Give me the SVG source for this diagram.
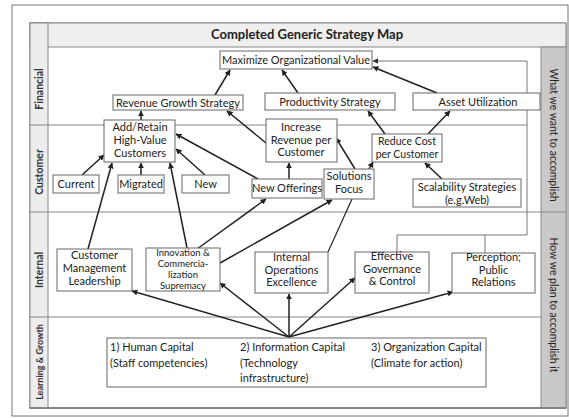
<svg xmlns="http://www.w3.org/2000/svg" width="569" height="418" viewBox="0 0 569 418">
<style>
.frame{fill:none;stroke:#777;stroke-width:1}
.div{stroke:#888;stroke-width:1;fill:none}
.box{fill:#fff;stroke:#666;stroke-width:1}
.t{font-family:Lato,"Open Sans",sans-serif;font-size:11px;fill:#222;text-anchor:middle}
.tl{font-family:Lato,"Open Sans",sans-serif;font-size:11px;fill:#222}
.lab{font-family:Lato,"Open Sans",sans-serif;font-size:10.5px;font-weight:bold;fill:#333;text-anchor:middle}
.side{font-family:Lato,"Open Sans",sans-serif;font-size:10.5px;fill:#222;text-anchor:middle}
.c{stroke:#222;stroke-width:1.5;fill:none;marker-end:url(#ah)}
.cp{stroke:#222;stroke-width:1.2;fill:none}
.br{stroke:#777;stroke-width:1;fill:none}
</style>
<defs>
<marker id="ah" viewBox="0 0 10 10" refX="9" refY="5" markerWidth="6" markerHeight="6" markerUnits="userSpaceOnUse" orient="auto">
<path d="M0,0 L10,5 L0,10 z" fill="#222"/>
</marker>
<marker id="ah2" viewBox="0 0 10 10" refX="9" refY="5" markerWidth="6" markerHeight="6" markerUnits="userSpaceOnUse" orient="auto">
<path d="M0,0 L10,5 L0,10 z" fill="#333"/>
</marker>
</defs>
<rect x="0" y="0" width="569" height="418" fill="#fff"/>
<g id="frame">
<rect x="12" y="5" width="556" height="411" class="frame"/>
<rect x="30" y="23" width="536" height="385" fill="#fff" stroke="#777"/>
<rect x="30" y="23" width="536" height="24" fill="#efefef" stroke="#888"/>
<rect x="30" y="23" width="18" height="385" fill="#ededed" stroke="#888"/>
<rect x="541" y="47" width="25" height="361" fill="#c9c9c9" stroke="#888"/>
<line x1="30" y1="125" x2="527" y2="125" class="div"/>
<line x1="30" y1="212" x2="566" y2="212" class="div"/>
<line x1="30" y1="317" x2="541" y2="317" class="div"/>
<line x1="30" y1="408" x2="566" y2="408" stroke="#777" stroke-width="1.5"/>
<text x="307" y="39" font-family="Lato,'Open Sans',sans-serif" font-size="13" font-weight="bold" fill="#222" text-anchor="middle">Completed Generic Strategy Map</text>
<text class="lab" transform="translate(43,89) rotate(-90)">Financial</text>
<text class="lab" transform="translate(43,172) rotate(-90)">Customer</text>
<text class="lab" transform="translate(43,270) rotate(-90)">Internal</text>
<text class="lab" style="font-size:9px" transform="translate(42.5,362) rotate(-90)">Learning &amp; Growth</text>
<text class="side" transform="translate(550,135) rotate(90)">What we want to accomplish</text>
<text class="side" transform="translate(550,305) rotate(90)">How we plan to accomplish it</text>
</g>
<g id="connectors">
<polyline points="397,252 397,235 527,235 527,61 373,61" class="br" marker-end="url(#ah2)"/>
<line x1="485" y1="253" x2="485" y2="235" class="br"/>
<line x1="289" y1="337" x2="132" y2="291" class="c"/>
<line x1="289" y1="337" x2="220" y2="283" class="c"/>
<line x1="289" y1="337" x2="289" y2="294" class="c"/>
<line x1="289" y1="337" x2="355" y2="278" class="c"/>
<line x1="289" y1="337" x2="453" y2="292" class="c"/>
<line x1="88" y1="249" x2="112" y2="163" class="c"/>
<line x1="187" y1="248" x2="170" y2="163" class="c"/>
<line x1="197" y1="249" x2="266" y2="199" class="c"/>
<line x1="220" y1="263" x2="332" y2="200" class="c" stroke-width="1.1"/>
<line x1="328" y1="252" x2="352" y2="199" class="cp"/>
<line x1="82" y1="175" x2="104" y2="155" class="c"/>
<line x1="141" y1="175" x2="141" y2="163" class="c"/>
<line x1="205" y1="175" x2="176" y2="149" class="c"/>
<line x1="258" y1="179" x2="176" y2="134" class="c"/>
<line x1="289" y1="179" x2="289" y2="163" class="c"/>
<line x1="355" y1="169" x2="336" y2="138" class="c"/>
<line x1="369" y1="169" x2="373" y2="162" class="c"/>
<line x1="442" y1="179" x2="425" y2="163" class="c"/>
<line x1="141" y1="120" x2="141" y2="111" class="c"/>
<line x1="266" y1="143" x2="227" y2="111" class="c"/>
<line x1="385" y1="134" x2="368" y2="111" class="c"/>
<line x1="428" y1="134" x2="450" y2="111" class="c"/>
<line x1="215" y1="95" x2="230" y2="70" class="c"/>
<line x1="298" y1="93" x2="282" y2="70" class="c"/>
<line x1="437" y1="93" x2="373" y2="67" class="c"/>
</g>
<g id="maximize"><rect x="220" y="51" width="152" height="18" class="box"/><text x="296" y="64" class="t">Maximize Organizational Value</text></g>
<g id="revenue-growth"><rect x="113" y="95" width="130" height="15" class="box"/><text x="178" y="106.5" class="t">Revenue Growth Strategy</text></g>
<g id="productivity"><rect x="265" y="93" width="130" height="17" class="box"/><text x="330" y="105.5" class="t">Productivity Strategy</text></g>
<g id="asset"><rect x="413" y="93" width="127" height="17" class="box"/><text x="478" y="105.5" class="t">Asset Utilization</text></g>
<g id="add-retain"><rect x="104" y="120" width="71" height="42" class="box"/><text class="t"><tspan x="140" y="131">Add/Retain</tspan><tspan x="140" y="144">High-Value</tspan><tspan x="140" y="157">Customers</tspan></text></g>
<g id="increase-revenue"><rect x="266" y="119" width="71" height="43" class="box"/><text class="t"><tspan x="301" y="131">Increase</tspan><tspan x="301" y="143.5">Revenue per</tspan><tspan x="301" y="156">Customer</tspan></text></g>
<g id="reduce-cost"><rect x="372" y="134" width="70" height="28" class="box"/><text class="t" style="font-size:10.5px"><tspan x="407" y="145">Reduce Cost</tspan><tspan x="407" y="157.5">per Customer</tspan></text></g>
<g id="current"><rect x="53" y="175" width="46" height="18" class="box"/><text x="76" y="187.5" class="t">Current</text></g>
<g id="migrated"><rect x="118" y="175" width="46" height="18" class="box"/><text x="141" y="187.5" class="t">Migrated</text></g>
<g id="new"><rect x="182" y="175" width="47" height="18" class="box"/><text x="205.5" y="187.5" class="t">New</text></g>
<g id="new-offerings"><rect x="252" y="179" width="70" height="19" class="box"/><text x="287" y="192" class="t">New Offerings</text></g>
<g id="solutions"><rect x="324" y="169" width="50" height="30" class="box"/><text class="t"><tspan x="349" y="180">Solutions</tspan><tspan x="349" y="192.5">Focus</tspan></text></g>
<g id="scalability"><rect x="413" y="179" width="108" height="28" class="box"/><text class="t"><tspan x="467" y="190.5">Scalability Strategies</tspan><tspan x="467" y="203.5">(e.g.Web)</tspan></text></g>
<g id="cml"><rect x="57" y="249" width="75" height="42" class="box"/><text class="t"><tspan x="94.5" y="259">Customer</tspan><tspan x="94.5" y="272">Management</tspan><tspan x="94.5" y="285">Leadership</tspan></text></g>
<g id="innovation"><rect x="146" y="248" width="74" height="43" class="box"/><text class="t" style="font-size:9.5px"><tspan x="183" y="256">Innovation &amp;</tspan><tspan x="183" y="267">Commercia-</tspan><tspan x="183" y="278">lization</tspan><tspan x="183" y="289">Supremacy</tspan></text></g>
<g id="internal-ops"><rect x="255" y="252" width="73" height="41" class="box"/><text class="t"><tspan x="291.5" y="261">Internal</tspan><tspan x="291.5" y="273.5">Operations</tspan><tspan x="291.5" y="286">Excellence</tspan></text></g>
<g id="governance"><rect x="355" y="252" width="74" height="41" class="box"/><text class="t"><tspan x="392" y="260">Effective</tspan><tspan x="392" y="272.5">Governance</tspan><tspan x="392" y="285">&amp; Control</tspan></text></g>
<g id="perception"><rect x="452" y="253" width="83" height="40" class="box"/><text class="t"><tspan x="493.5" y="261">Perception;</tspan><tspan x="493.5" y="273.5">Public</tspan><tspan x="493.5" y="286">Relations</tspan></text></g>
<g id="learning"><rect x="107" y="338" width="379" height="49" class="box"/>
<text class="tl"><tspan x="110" y="351">1) Human Capital</tspan><tspan x="110" y="367">(Staff competencies)</tspan></text>
<text class="tl"><tspan x="240" y="351">2) Information Capital</tspan><tspan x="240" y="367">(Technology</tspan><tspan x="240" y="382">infrastructure)</tspan></text>
<text class="tl"><tspan x="371" y="351">3) Organization Capital</tspan><tspan x="371" y="367">(Climate for action)</tspan></text>
</g>
</svg>
